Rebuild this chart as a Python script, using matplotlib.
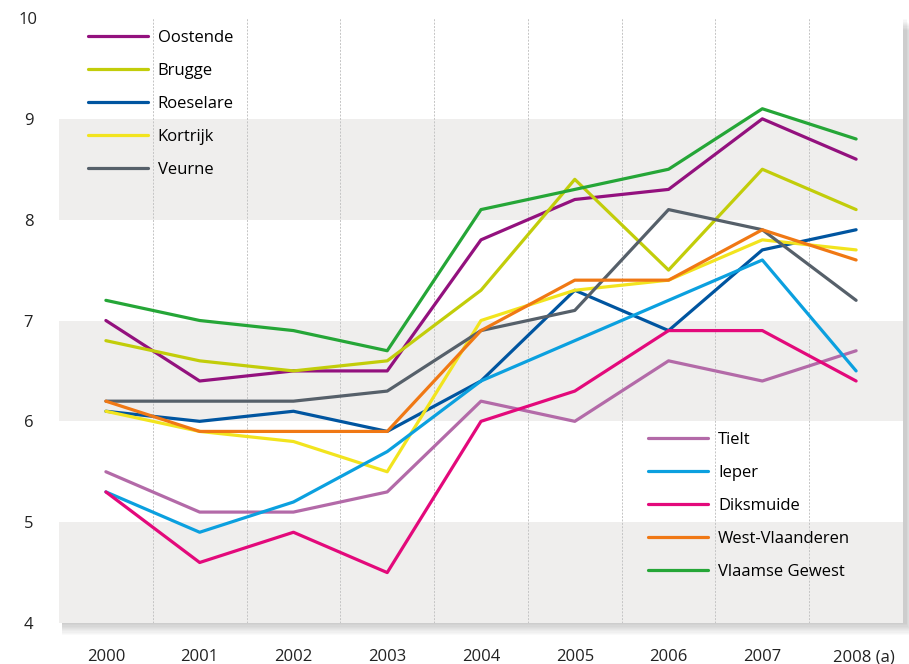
import matplotlib
matplotlib.use('Agg')
import matplotlib.pyplot as plt
import matplotlib.transforms as mtransforms
from matplotlib.patches import Rectangle

plt.rcParams['font.family'] = ['Open Sans', 'DejaVu Sans']

years = ['2000', '2001', '2002', '2003', '2004', '2005', '2006', '2007', '2008 (a)']

oostende = [7.0, 6.4, 6.5, 6.5, 7.8, 8.2, 8.3, 9.0, 8.6]
brugge = [6.8, 6.6, 6.5, 6.6, 7.3, 8.4, 7.5, 8.5, 8.1]
roeselare = [6.1, 6.0, 6.1, 5.9, 6.4, 7.3, 6.9, 7.7, 7.9]
kortrijk = [6.1, 5.9, 5.8, 5.5, 7.0, 7.3, 7.4, 7.8, 7.7]
veurne = [6.2, 6.2, 6.2, 6.3, 6.9, 7.1, 8.1, 7.9, 7.2]
tielt = [5.5, 5.1, 5.1, 5.3, 6.2, 6.0, 6.6, 6.4, 6.7]
ieper = [5.3, 4.9, 5.2, 5.7, 6.4, 6.8, 7.2, 7.6, 6.5]
diksmuide = [5.3, 4.6, 4.9, 4.5, 6.0, 6.3, 6.9, 6.9, 6.4]
west_vl = [6.2, 5.9, 5.9, 5.9, 6.9, 7.4, 7.4, 7.9, 7.6]
vlaams = [7.2, 7.0, 6.9, 6.7, 8.1, 8.3, 8.5, 9.1, 8.8]

group1 = [('Oostende', oostende, '#93117e'),
          ('Brugge', brugge, '#c2cd0a'),
          ('Roeselare', roeselare, '#0055a0'),
          ('Kortrijk', kortrijk, '#f2e41e'),
          ('Veurne', veurne, '#56606a')]
group2 = [('Tielt', tielt, '#b36aa8'),
          ('Ieper', ieper, '#0ba0df'),
          ('Diksmuide', diksmuide, '#e3097b'),
          ('West-Vlaanderen', west_vl, '#f07814'),
          ('Vlaamse Gewest', vlaams, '#25a637')]

fig = plt.figure(figsize=(9.09, 6.64), dpi=100)
ax = fig.add_axes([59 / 909, 1 - 623 / 664, 844 / 909, 605 / 664])
pos = ax.get_position()

# soft shadow under the plot area, behind the axes
for i in range(1, 11):
    fig.patches.append(Rectangle((pos.x0 + 3 / 909, pos.y0 - i * 1.2 / 664),
                                 pos.width + i * 0.7 / 909, pos.height,
                                 transform=fig.transFigure, facecolor='#000000', alpha=0.018,
                                 edgecolor='none', zorder=-5))

x = list(range(len(years)))
ax.set_xlim(-0.5, 8.5)
ax.set_ylim(4, 10)
ax.set_facecolor('white')
for lo in [4, 6, 8]:
    ax.axhspan(lo, lo + 1, color='#efeeed', lw=0, zorder=0)
for xv in [i + 0.5 for i in range(8)]:
    ax.axvline(xv, color='#c4c4c4', lw=0.7, ls=(0, (2, 1.5)), zorder=1)

lines1 = []
for name, vals, col in group1:
    l, = ax.plot(x, vals, color=col, lw=2.3, label=name, zorder=3, solid_capstyle='round')
    lines1.append(l)
lines2 = []
for name, vals, col in group2:
    l, = ax.plot(x, vals, color=col, lw=2.3, label=name, zorder=3, solid_capstyle='round')
    lines2.append(l)

for s in ax.spines.values():
    s.set_visible(False)

ax.set_xticks(x)
ax.set_xticklabels(years)
ax.set_yticks([4, 5, 6, 7, 8, 9, 10])
ax.tick_params(length=0, labelsize=12, colors='#222222')
ax.tick_params(axis='x', pad=19)
ax.tick_params(axis='y', pad=22)
for t in ax.get_yticklabels():
    t.set_horizontalalignment('center')
last = ax.get_xticklabels()[-1]
last.set_transform(last.get_transform() + mtransforms.ScaledTranslation(8 / 100, 0, fig.dpi_scale_trans))

leg_kw = dict(frameon=False, fontsize=12, handlelength=3.6, handletextpad=0.6,
              labelspacing=1.02, borderpad=0, borderaxespad=0)
leg1 = ax.legend(handles=lines1, loc='upper left', bbox_to_anchor=(0.034, 0.98), **leg_kw)
ax.add_artist(leg1)
ax.legend(handles=lines2, loc='upper left', bbox_to_anchor=(0.698, 0.316), **leg_kw)

fig.savefig('out.png', dpi=100)
